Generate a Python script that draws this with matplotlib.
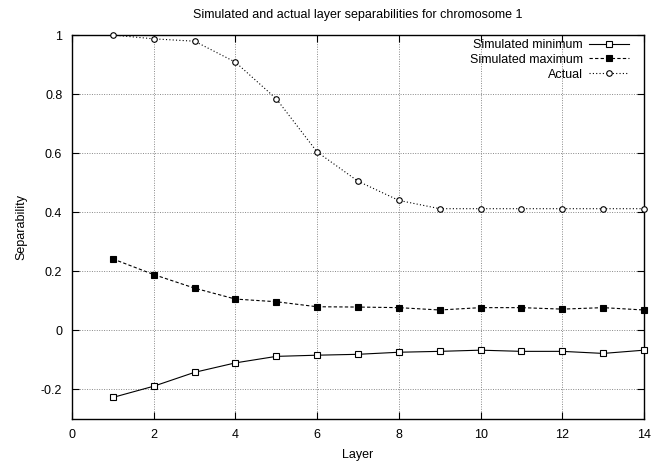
import matplotlib
matplotlib.use("Agg")
import matplotlib.pyplot as plt

plt.rcParams['font.family'] = ['Liberation Sans', 'DejaVu Sans']

layers = list(range(1, 15))
sim_min = [-0.227, -0.189, -0.142, -0.110, -0.088, -0.084, -0.081, -0.074, -0.071, -0.067, -0.071, -0.071, -0.078, -0.067]
sim_max = [0.242, 0.189, 0.143, 0.106, 0.097, 0.080, 0.079, 0.077, 0.069, 0.077, 0.077, 0.072, 0.077, 0.069]
actual = [1.0, 0.987, 0.979, 0.908, 0.784, 0.604, 0.505, 0.440, 0.412, 0.412, 0.412, 0.412, 0.412, 0.412]
x_ticks = [0, 2, 4, 6, 8, 10, 12, 14]
y_ticks = [-0.2, 0, 0.2, 0.4, 0.6, 0.8, 1]
y_tick_labels = ['-0.2', '0', '0.2', '0.4', '0.6', '0.8', '1']

fig = plt.figure(figsize=(6.62, 4.62), dpi=100)
ax = fig.add_axes([72/662, 1-419/462, (644-72)/662, (419-35)/462])

ax.plot(layers, sim_min, color='black', lw=0.8, ls='-', marker='s', ms=3.8,
        mfc='white', mec='black', mew=0.8, label='Simulated minimum', clip_on=False, zorder=3)
ax.plot(layers, sim_max, color='black', lw=0.8, ls=(0, (3, 2)), marker='s', ms=3.8,
        mfc='black', mec='black', mew=0.8, label='Simulated maximum', clip_on=False, zorder=3)
ax.plot(layers, actual, color='black', lw=0.8, ls=(0, (1, 2)), marker='o', ms=4.0,
        mfc='white', mec='black', mew=0.8, label='Actual', clip_on=False, zorder=3)

ax.set_xlim(0, 14)
ax.set_ylim(-0.3, 1.0)
ax.set_xticks(x_ticks)
ax.set_xticklabels([str(t) for t in x_ticks])
ax.set_yticks(y_ticks)
ax.set_yticklabels(y_tick_labels)
ax.tick_params(direction='in', top=True, right=True, length=5, width=0.8, labelsize=9, pad=7)
ax.grid(True, color='#888888', ls=(0, (1, 1.5)), lw=0.7)
for s in ax.spines.values():
    s.set_linewidth(1.0)

ax.set_title('Simulated and actual layer separabilities for chromosome 1', fontsize=9, pad=12)
ax.set_xlabel('Layer', fontsize=9, labelpad=6)
ax.set_ylabel('Separability', fontsize=9, labelpad=10)

leg = ax.legend(loc='upper right', bbox_to_anchor=(629/662, 1-39/462), bbox_transform=fig.transFigure,
                frameon=False, markerfirst=False, fontsize=9,
                handlelength=3.2, handletextpad=0.5, labelspacing=0.22,
                borderaxespad=0.0, borderpad=0.0)
for t in leg.get_texts():
    t.set_ha('right')

fig.savefig('out.png', dpi=100)
